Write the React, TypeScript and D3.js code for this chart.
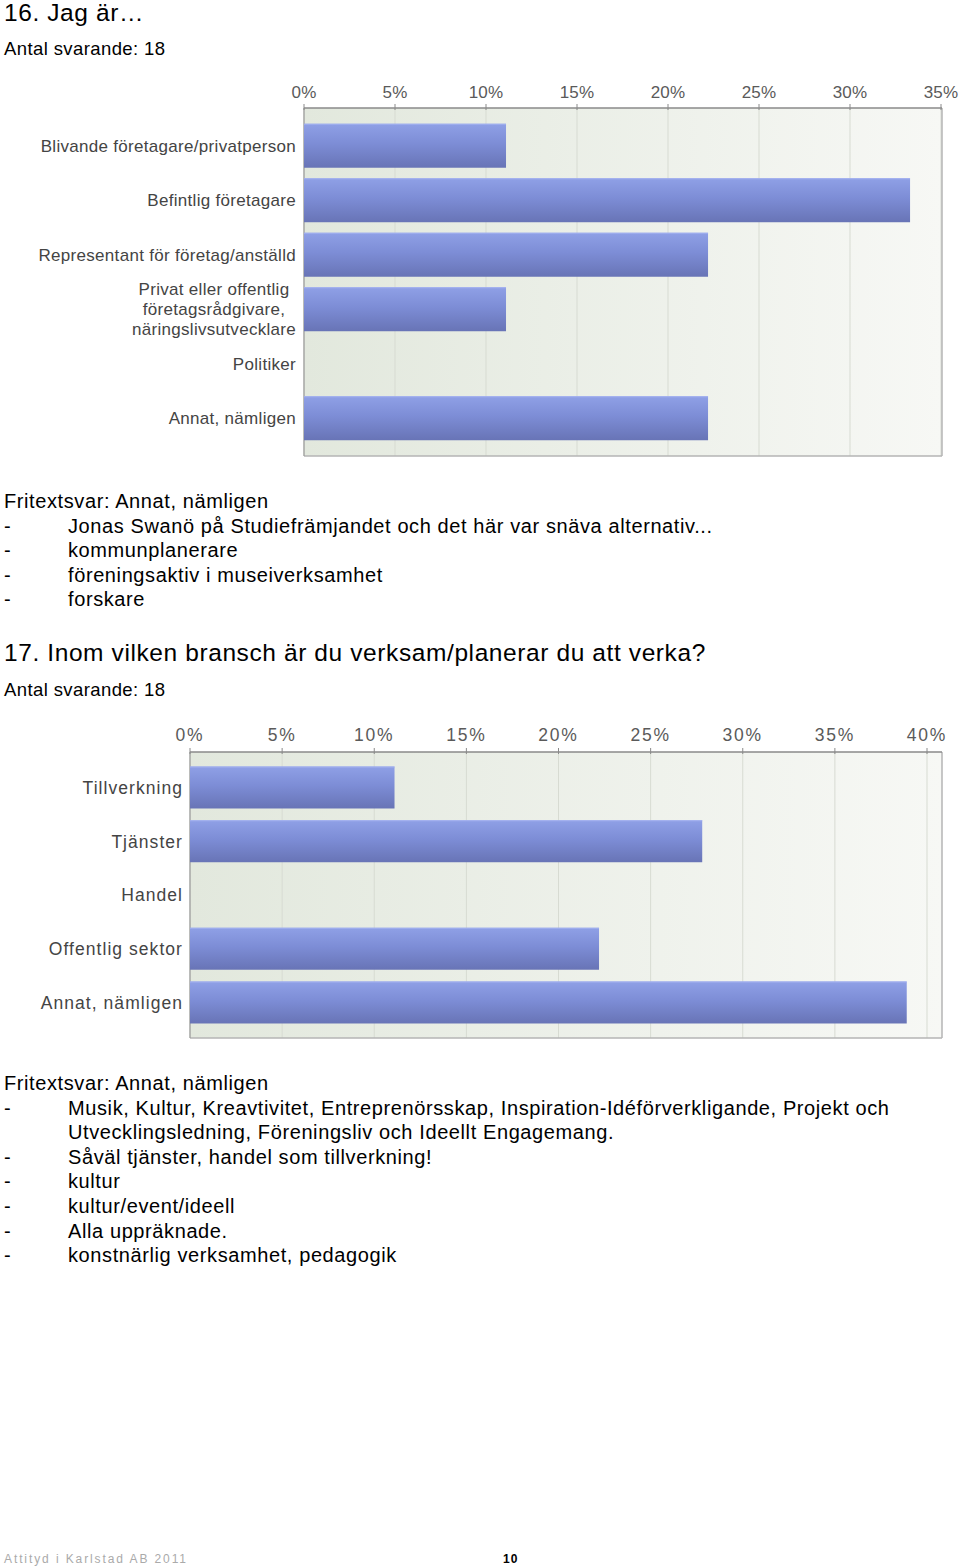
import React from "react";
import * as d3 from "d3";

const W = 960;
const H = 1567;

// ---------- Data ----------
const q16Title = "16. Jag är…";
const q16Respondents = "Antal svarande: 18";
const q16Categories = [
  "Blivande företagare/privatperson",
  "Befintlig företagare",
  "Representant för företag/anställd",
  "Privat eller offentlig\nföretagsrådgivare,\nnäringslivsutvecklare",
  "Politiker",
  "Annat, nämligen",
];
const q16Values = [11.1, 33.3, 22.2, 11.1, 0, 22.2];
const q16Ticks = [0, 5, 10, 15, 20, 25, 30, 35];
const q16FreeHeader = "Fritextsvar: Annat, nämligen";
const q16FreeLines = [
  "Jonas Swanö på Studiefrämjandet och det här var snäva alternativ...",
  "kommunplanerare",
  "föreningsaktiv i museiverksamhet",
  "forskare",
];

const q17Title = "17. Inom vilken bransch är du verksam/planerar du att verka?";
const q17Respondents = "Antal svarande: 18";
const q17Categories = ["Tillverkning", "Tjänster", "Handel", "Offentlig sektor", "Annat, nämligen"];
const q17Values = [11.1, 27.8, 0, 22.2, 38.9];
const q17Ticks = [0, 5, 10, 15, 20, 25, 30, 35, 40];
const q17FreeHeader = "Fritextsvar: Annat, nämligen";
const q17FreeLines = [
  ["Musik, Kultur, Kreavtivitet, Entreprenörsskap, Inspiration-Idéförverkligande, Projekt och", "Utvecklingsledning, Föreningsliv och Ideellt Engagemang."],
  ["Såväl tjänster, handel som tillverkning!"],
  ["kultur"],
  ["kultur/event/ideell"],
  ["Alla uppräknade."],
  ["konstnärlig verksamhet, pedagogik"],
];

const footerLeft = "Attityd i Karlstad AB 2011";
const footerPage = "10";

const BODY_FONT = "'Liberation Sans', Arial, sans-serif";

type ChartProps = {
  id: string;
  categories: string[];
  values: number[];
  ticks: number[];
  plotLeft: number;
  tickRight: number;
  plotRight: number;
  top: number;
  bottom: number;
  padInner: number;
  padOuter: number;
  labelX: number;
  labelFont: number;
  labelSpacing: number;
  tickFont: number;
  tickSpacing: number;
  tickOffset: number;
  multiCenterX?: number;
};

function BarChart(p: ChartProps) {
  const x = d3
    .scaleLinear()
    .domain([0, p.ticks[p.ticks.length - 1]])
    .range([p.plotLeft, p.tickRight]);
  const y = d3
    .scaleBand<string>()
    .domain(p.categories)
    .range([p.top, p.bottom])
    .paddingInner(p.padInner)
    .paddingOuter(p.padOuter);
  const bw = y.bandwidth();
  return (
    <g>
      <defs>
        <linearGradient id={p.id + "-bg"} x1="0" x2="1" y1="0" y2="0">
          <stop offset="0" stopColor="#e2e8dd" />
          <stop offset="1" stopColor="#f7f8f5" />
        </linearGradient>
        <linearGradient id={p.id + "-bar"} x1="0" x2="0" y1="0" y2="1">
          <stop offset="0" stopColor="#8fa0e6" />
          <stop offset="0.45" stopColor="#7d8dd6" />
          <stop offset="1" stopColor="#6874b6" />
        </linearGradient>
      </defs>
      <rect
        x={p.plotLeft}
        y={p.top}
        width={p.plotRight - p.plotLeft}
        height={p.bottom - p.top}
        fill={`url(#${p.id}-bg)`}
      />
      {p.ticks.map((t) => (
        <line
          key={"g" + t}
          x1={x(t)}
          x2={x(t)}
          y1={p.top}
          y2={p.bottom}
          stroke="#d7dbd2"
          strokeWidth={1}
        />
      ))}
      <line x1={p.plotRight} x2={p.plotRight} y1={p.top} y2={p.bottom} stroke="#b5b5b5" strokeWidth={1.5} />
      <line x1={p.plotLeft} x2={p.plotRight} y1={p.bottom} y2={p.bottom} stroke="#b5b5b5" strokeWidth={1.5} />
      <line x1={p.plotLeft} x2={p.plotLeft} y1={p.top} y2={p.bottom} stroke="#9a9a9a" strokeWidth={1.2} />
      {p.categories.map((c, i) =>
        p.values[i] > 0 ? (
          <g key={"b" + i}>
            <rect
              x={x(0)}
              y={y(c)!}
              width={x(p.values[i]) - x(0)}
              height={bw}
              fill={`url(#${p.id}-bar)`}
            />
            <line
              x1={x(0)}
              x2={x(p.values[i])}
              y1={y(c)! + 0.5}
              y2={y(c)! + 0.5}
              stroke="#a3b1f0"
              strokeWidth={1}
            />
          </g>
        ) : null
      )}
      <line x1={p.plotLeft} x2={p.plotRight} y1={p.top} y2={p.top} stroke="#8a8a8a" strokeWidth={1.5} />
      {p.ticks.map((t) => (
        <g key={"t" + t}>
          <line x1={x(t)} x2={x(t)} y1={p.top - 4} y2={p.top + 2} stroke="#8a8a8a" strokeWidth={1} />
          <text
            x={x(t)}
            y={p.top - p.tickOffset}
            textAnchor="middle"
            fontFamily={BODY_FONT}
            fontSize={p.tickFont}
            letterSpacing={p.tickSpacing}
            fill="#5a5a5a"
          >
            {t + "%"}
          </text>
        </g>
      ))}
      {p.categories.map((c, i) => {
        const lines = c.split("\n");
        const cy = y(c)! + bw / 2;
        if (lines.length === 1) {
          return (
            <text
              key={"l" + i}
              x={p.labelX}
              y={cy}
              dy="0.36em"
              textAnchor="end"
              fontFamily={BODY_FONT}
              fontSize={p.labelFont}
              letterSpacing={p.labelSpacing}
              fill="#444"
            >
              {c}
            </text>
          );
        }
        const lh = 20;
        return (
          <text
            key={"l" + i}
            x={p.multiCenterX}
            textAnchor="middle"
            fontFamily={BODY_FONT}
            fontSize={p.labelFont}
            letterSpacing={p.labelSpacing}
            fill="#444"
          >
            {lines.map((ln, k) => (
              <tspan key={k} x={p.multiCenterX} y={cy + (k - (lines.length - 1) / 2) * lh} dy="0.36em">
                {ln}
              </tspan>
            ))}
          </text>
        );
      })}
    </g>
  );
}

function FreeText({ header, items, y0 }: { header: string; items: string[][]; y0: number }) {
  const lh = 24.6;
  const rows: { dash: boolean; text: string }[] = [];
  items.forEach((it) => it.forEach((t, k) => rows.push({ dash: k === 0, text: t })));
  return (
    <g fontFamily={BODY_FONT} fontSize={20} letterSpacing={0.6} fill="#000">
      <text x={4} y={y0}>{header}</text>
      {rows.map((r, i) => (
        <g key={i}>
          {r.dash && <text x={4} y={y0 + (i + 1) * lh}>-</text>}
          <text x={68} y={y0 + (i + 1) * lh}>{r.text}</text>
        </g>
      ))}
    </g>
  );
}

export default function App() {
  return (
    <svg
      width={W}
      height={H}
      viewBox={`0 0 ${W} ${H}`}
      style={{ position: "absolute", left: 0, top: 0, background: "#fff" }}
    >
      <rect width={W} height={H} fill="#fff" />
      <text x={4} y={21} fontFamily={BODY_FONT} fontSize={24.5} letterSpacing={0.6} fill="#000">{q16Title}</text>
      <text x={4} y={55} fontFamily={BODY_FONT} fontSize={18.5} letterSpacing={0.4} fill="#000">{q16Respondents}</text>
      <BarChart
        id="c16"
        categories={q16Categories}
        values={q16Values}
        ticks={q16Ticks}
        plotLeft={304}
        tickRight={941}
        plotRight={942}
        top={108}
        bottom={456}
        padInner={0.193}
        padOuter={0.289}
        labelX={296}
        labelFont={17}
        labelSpacing={0.3}
        tickFont={17}
        tickSpacing={0.2}
        tickOffset={10}
        multiCenterX={214}
      />
      <FreeText header={q16FreeHeader} items={q16FreeLines.map((t) => [t])} y0={508} />

      <text x={4} y={661} fontFamily={BODY_FONT} fontSize={24.5} letterSpacing={0.6} fill="#000">{q17Title}</text>
      <text x={4} y={696} fontFamily={BODY_FONT} fontSize={18.5} letterSpacing={0.4} fill="#000">{q17Respondents}</text>
      <BarChart
        id="c17"
        categories={q17Categories}
        values={q17Values}
        ticks={q17Ticks}
        plotLeft={190}
        tickRight={927}
        plotRight={942}
        top={752}
        bottom={1038}
        padInner={0.219}
        padOuter={0.27}
        labelX={183}
        labelFont={17.5}
        labelSpacing={1.05}
        tickFont={17.5}
        tickSpacing={1.8}
        tickOffset={11}
      />
      <FreeText header={q17FreeHeader} items={q17FreeLines} y0={1090} />

      <text x={4} y={1563} fontFamily={BODY_FONT} fontSize={12} letterSpacing={1.9} fill="#aaa">{footerLeft}</text>
      <text x={503} y={1563} fontFamily={BODY_FONT} fontSize={12} fontWeight="bold" letterSpacing={1} fill="#000">{footerPage}</text>
    </svg>
  );
}
